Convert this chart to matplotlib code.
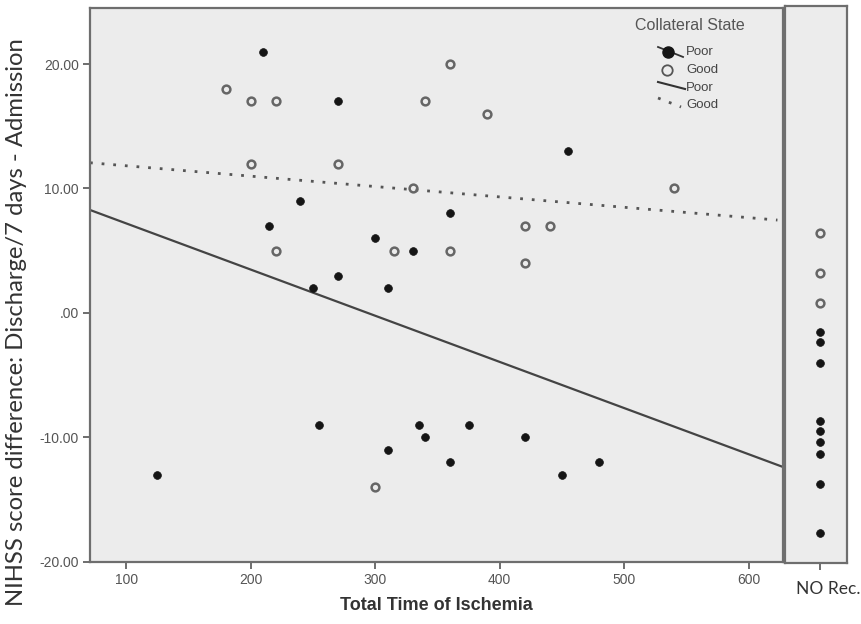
import numpy as np
import matplotlib.pyplot as plt

# Total time of ischemia (min) and NIHSS change, by collateral state
poor_time = [210, 270, 455, 240, 215, 360, 300, 330, 270, 250, 310,
             255, 335, 375, 340, 420, 310, 360, 480, 125, 450]
poor_diff = [21, 17, 13, 9, 7, 8, 6, 5, 3, 2, 2,
             -9, -9, -9, -10, -10, -11, -12, -12, -13, -13]
good_time = [180, 200, 220, 360, 340, 390, 200, 270, 330, 540,
             420, 440, 220, 315, 360, 420, 300]
good_diff = [18, 17, 17, 20, 17, 16, 12, 12, 10, 10,
             7, 7, 5, 5, 5, 4, -14]

# Fit lines (intercept, slope) per collateral group
poor_fit = [10.91, -0.0371]
good_fit = [12.66, -0.00834]

# Patients without recanalization
norec_poor = [-1.5, -2.35, -4.0, -8.7, -9.5, -10.4, -11.3, -13.7, -17.7]
norec_good = [6.4, 3.2, 0.8]

xticks = [100, 200, 300, 400, 500, 600]
yticks = [-20, -10, 0, 10, 20]
ytick_labels = ['-20.00', '-10.00', '.00', '10.00', '20.00']
norec_label = 'NO Rec.'

BG = '#ececec'
SPINE = '#6e6e6e'
TICKC = '#555555'
FILL = '#151515'
OPEN_EDGE = '#666666'

fig = plt.figure(figsize=(8.62, 6.24), dpi=100)
ax = fig.add_axes([0.1044, 0.0994, 0.804, 0.8878])
axr = fig.add_axes([0.9107, 0.0978, 0.0719, 0.8926])

ylo, yhi = -20, 24.5
xlo, xhi = 71, 627.5

for a in (ax, axr):
    a.set_facecolor(BG)
    for s in a.spines.values():
        s.set_color(SPINE)
        s.set_linewidth(1.6)

# scatter points
ax.plot(good_time, good_diff, ls='none', marker='o', ms=5.6,
        mfc='none', mec=OPEN_EDGE, mew=1.8, zorder=3)
ax.plot(poor_time, poor_diff, ls='none', marker='o', ms=5.6,
        mfc=FILL, mec=FILL, mew=0.5, zorder=4)

# linear fit lines per group
xs = np.array([xlo, xhi])
ax.plot(xs, poor_fit[0] + poor_fit[1] * xs, color='#444444', lw=1.6, zorder=2)
xg = np.array([xlo, 623])
ax.plot(xg, good_fit[0] + good_fit[1] * xg, color='#555555', lw=2.0,
        ls=(0, (1, 3.2)), zorder=2)

ax.set_xlim(xlo, xhi)
ax.set_ylim(ylo, yhi)
ax.set_xticks(xticks)
ax.set_xticklabels([str(v) for v in xticks])
ax.set_yticks(yticks)
ax.set_yticklabels(ytick_labels)
ax.tick_params(direction='out', length=5, width=1.4, color=SPINE,
               labelcolor=TICKC, labelsize=10, pad=3)
for lab in ax.get_xticklabels() + ax.get_yticklabels():
    lab.set_fontfamily('Liberation Sans')

ax.set_xlabel('Total Time of Ischemia', fontsize=13, fontweight='bold',
              color='#333333', family='Liberation Sans')
ax.xaxis.set_label_coords(0.5, -0.079)
ax.xaxis.label.set_va('center')
ax.set_ylabel('NIHSS score difference: Discharge/7 days - Admission',
              fontsize=17.2, color='#333333', family='Lato')
ax.yaxis.set_label_coords(-0.106, 0.433)
ax.yaxis.label.set_va('center')

# right panel: no recanalization
px_per_unit = 554 / (yhi - ylo)
axr.set_ylim(ylo - 1 / px_per_unit, yhi + 2 / px_per_unit)
axr.set_xlim(-0.565, 0.435)
axr.plot(np.zeros(len(norec_good)), norec_good, ls='none', marker='o',
         ms=5.6, mfc='none', mec=OPEN_EDGE, mew=1.8, zorder=3)
axr.plot(np.zeros(len(norec_poor)), norec_poor, ls='none', marker='o',
         ms=5.6, mfc=FILL, mec=FILL, mew=0.5, zorder=4)
axr.set_yticks([])
axr.set_xticks([0])
axr.set_xticklabels([''])
axr.tick_params(axis='x', direction='out', length=5, width=1.4, color=SPINE)
axr.text(0.694, -0.047, norec_label, transform=axr.transAxes, ha='center',
         va='center', fontsize=12.5, family='Lato', color='#333333')

# legend
T = ax.transAxes
ax.text(0.866, 0.968, 'Collateral State', transform=T, ha='center',
        va='center', fontsize=11.5, color='#555555', family='Liberation Sans')
ax.plot([0.8196, 0.8557], [0.9296, 0.9116], transform=T, color='#333333',
        lw=1.3)
ax.plot([0.834], [0.9206], transform=T, marker='o', ms=8, mfc=FILL,
        mec=FILL, ls='none')
ax.plot([0.8326], [0.888], transform=T, marker='o', ms=7.5, mfc='none',
        mec='#555555', mew=1.3, ls='none')
ax.plot([0.8196, 0.8586], [0.8664, 0.8538], transform=T, color='#333333',
        lw=1.5)
ax.plot([0.8196, 0.8528], [0.8375, 0.8213], transform=T, color='#555555',
        lw=2.0, ls=(0, (1, 3.2)))
for ty, tx in [(0.9206, 'Poor'), (0.888, 'Good'), (0.8556, 'Poor'),
               (0.8249, 'Good')]:
    ax.text(0.860, ty, tx, transform=T, ha='left', va='center', fontsize=9.5,
            color='#444444', family='Liberation Sans')

fig.savefig('out.png', dpi=100, facecolor='white')
